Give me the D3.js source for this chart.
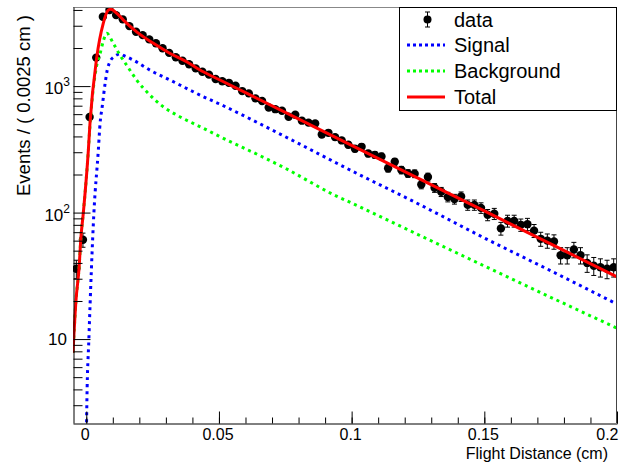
<!DOCTYPE html>
<html>
<head>
<meta charset="utf-8">
<script src="https://cdn.jsdelivr.net/npm/d3@7"></script>
<style>
body { margin: 0; background: #fff; }
text { font-family: "Liberation Sans", Arial, Helvetica, sans-serif; fill: #000; }
</style>
</head>
<body>
<svg id="chart" width="629" height="464"></svg>
<script>
// binning of the data histogram
var xMin = -0.005, xMax = 0.2, binWidth = 0.0025;
var yMin = 2.17, yMax = 4220;

// events per bin
var counts = [36, 61, 570, 1680, 3530, 4000, 3640, 3370, 2980, 2690,
	2530, 2340, 2180, 1990, 1830, 1690, 1585, 1490, 1380, 1300,
	1232, 1139, 1093, 1061, 1006, 913, 876, 800, 763, 677,
	657, 638, 572, 594, 533, 514, 506, 414, 427, 395,
	372, 344, 320, 331, 293, 286, 278, 224, 252, 217,
	204, 203, 167, 191, 157, 146, 133, 128, 134, 115,
	115, 109, 96, 98, 75, 86, 86, 80, 81, 72,
	62, 60, 59, 46, 46, 51, 46, 40, 38, 37,
	36, 37];

// fitted curves, sampled along x
var signalX = [0.0, 0.00024, 0.00098, 0.00288, 0.00453, 0.0052, 0.006, 0.0071, 0.0079, 0.0089,
	0.0108, 0.0127, 0.0146, 0.0177, 0.024, 0.0316, 0.0391, 0.0441, 0.05, 0.075, 0.1, 0.125, 0.15, 0.175, 0.2];
var signalY = [1.5, 3.3, 10, 100, 308, 507, 686, 1050, 1337, 1556,
	1726, 1792, 1726, 1607, 1337, 1115, 929, 825, 725, 398, 214, 117.5, 63, 34.7, 18.9];

var backgroundX = [-0.005, -0.00387, -0.00274, -0.002, -0.0011, 0.00077, 0.0014, 0.0039, 0.0052, 0.0065,
	0.0077, 0.0102, 0.0127, 0.0152, 0.019, 0.024, 0.029, 0.0341, 0.0403, 0.0441,
	0.05, 0.0676, 0.075, 0.0937, 0.1, 0.125, 0.15, 0.175, 0.2];
var backgroundY = [7.8, 20.3, 36, 64, 100, 305, 487, 1450, 1800, 2300,
	2612, 2177, 1758, 1466, 1115, 849, 686, 590, 507, 464,
	402, 268, 224, 137, 119, 67, 37.8, 21.4, 12.2];

var totalX = [-0.005, -0.00387, -0.00274, -0.002, -0.0011, 0.00077, 0.0014, 0.0039, 0.0064, 0.0083,
	0.0092, 0.0115, 0.014, 0.019, 0.0253, 0.0316, 0.0378, 0.0441, 0.05, 0.075,
	0.1, 0.125, 0.15, 0.175, 0.2];
var totalY = [7.8, 20.3, 36, 64, 100, 308, 507, 1657, 3135, 3985,
	4050, 3760, 3327, 2685, 2177, 1811, 1556, 1298, 1127, 620,
	340, 187, 103, 56.5, 31];

var xTicks = [0, 0.05, 0.1, 0.15, 0.2];
var yMajor = [10, 100, 1000];
var yLabels = [["10", ""], ["10", "2"], ["10", "3"]];

var legendItems = [
	{name: 'data', type: 'data'},
	{name: 'Signal', type: 'line', color: '#0000ff', dash: '3,3'},
	{name: 'Background', type: 'line', color: '#00ff00', dash: '3,3'},
	{name: 'Total', type: 'line', color: '#ff0000', dash: null}
];

var margin = {left: 73, right: 617, top: 7, bottom: 423};
var svg = d3.select('#chart');
svg.append('rect').attr('width', 629).attr('height', 464).attr('fill', '#fff');

var x = d3.scaleLinear().domain([xMin, xMax]).range([margin.left, margin.right]);
var y = d3.scaleLog().domain([yMin, yMax]).range([margin.bottom, margin.top]);

svg.append('clipPath').attr('id', 'plotclip')
	.append('rect')
	.attr('x', margin.left).attr('y', margin.top)
	.attr('width', margin.right - margin.left).attr('height', margin.bottom - margin.top);

var plot = svg.append('g').attr('clip-path', 'url(#plotclip)');

// data points with poisson errors
var pts = counts.map(function(c, i) {
	return {x: xMin + (i + 0.5) * binWidth, n: c};
});
var pg = plot.append('g');
pts.forEach(function(d) {
	var cx = x(d.x), lo = y(d.n - Math.sqrt(d.n)), hi = y(d.n + Math.sqrt(d.n));
	pg.append('line').attr('x1', cx).attr('x2', cx).attr('y1', lo).attr('y2', hi)
		.attr('stroke', '#000').attr('stroke-width', 1);
	pg.append('line').attr('x1', cx - 2.5).attr('x2', cx + 2.5).attr('y1', lo).attr('y2', lo)
		.attr('stroke', '#000').attr('stroke-width', 1);
	pg.append('line').attr('x1', cx - 2.5).attr('x2', cx + 2.5).attr('y1', hi).attr('y2', hi)
		.attr('stroke', '#000').attr('stroke-width', 1);
	pg.append('line').attr('x1', x(d.x - binWidth / 2)).attr('x2', x(d.x + binWidth / 2))
		.attr('y1', y(d.n)).attr('y2', y(d.n))
		.attr('stroke', '#000').attr('stroke-width', 1);
});
pg.selectAll('circle').data(pts).enter().append('circle')
	.attr('cx', function(d) { return x(d.x); })
	.attr('cy', function(d) { return y(d.n); })
	.attr('r', 4.2)
	.attr('fill', '#000');

var line = d3.line()
	.x(function(d) { return x(d[0]); })
	.y(function(d) { return y(d[1]); })
	.curve(d3.curveMonotoneX);

function drawCurve(xs, ys, color, dash) {
	var p = plot.append('path')
		.datum(d3.zip(xs, ys))
		.attr('d', line)
		.attr('fill', 'none')
		.attr('stroke', color)
		.attr('stroke-width', 3);
	if (dash) p.attr('stroke-dasharray', dash);
}
drawCurve(signalX, signalY, '#0000ff', '3,4');
drawCurve(backgroundX, backgroundY, '#00ff00', '3,4');
drawCurve(totalX, totalY, '#ff0000', null);

// frame
svg.append('line').attr('x1', margin.left).attr('x2', margin.right).attr('y1', margin.top + 0.5).attr('y2', margin.top + 0.5)
	.attr('stroke', '#888');
svg.append('line').attr('x1', margin.right - 0.5).attr('x2', margin.right - 0.5).attr('y1', margin.top).attr('y2', margin.bottom)
	.attr('stroke', '#444');

// x axis, ticks inside
var xMinor = d3.range(0, 0.2001, 0.01);
svg.append('g').attr('transform', 'translate(0,' + (margin.bottom + 0.5) + ')')
	.call(d3.axisBottom(x).tickValues(xMinor).tickSize(-6).tickFormat(''))
	.call(function(g) { g.select('.domain').remove(); });
var xAx = svg.append('g').attr('transform', 'translate(0,' + (margin.bottom + 0.5) + ')')
	.call(d3.axisBottom(x).tickValues(xTicks).tickSize(-12).tickPadding(5).tickSizeOuter(0).tickFormat(d3.format('~g')));
xAx.select('.domain').attr('stroke', '#000');
xAx.selectAll('text').attr('font-size', 16).attr('font-family', '"Liberation Sans", Arial, sans-serif')
	.attr('dx', -1.5);
xAx.selectAll('.tick').filter(function(d) { return d === xMax; }).select('text')
	.attr('text-anchor', 'end').attr('dx', 1);
svg.selectAll('.tick line').attr('stroke', '#000');

// y axis, log, ticks inside
var yMinor = y.ticks().filter(function(v) { return yMajor.indexOf(v) < 0; });
svg.append('g').attr('transform', 'translate(' + (margin.left + 0.5) + ',0)')
	.call(d3.axisLeft(y).tickValues(yMinor).tickSize(-9).tickFormat(''))
	.call(function(g) { g.select('.domain').remove(); g.selectAll('line').attr('stroke', '#000'); });
var yAx = svg.append('g').attr('transform', 'translate(' + (margin.left + 0.5) + ',0)')
	.call(d3.axisLeft(y).tickValues(yMajor).tickSize(-17).tickSizeOuter(0).tickFormat(''));
yAx.select('.domain').attr('stroke', '#000');
yAx.selectAll('line').attr('stroke', '#000');

yMajor.forEach(function(v, i) {
	var t = svg.append('text')
		.attr('x', yLabels[i][1] ? 70 : 67)
		.attr('y', y(v) + (yLabels[i][1] ? 8 : 6))
		.attr('text-anchor', 'end')
		.attr('font-size', 17)
		.text(yLabels[i][0]);
	if (yLabels[i][1]) {
		t.append('tspan').attr('dy', -8).attr('font-size', 12).text(yLabels[i][1]);
	}
});

// axis titles
svg.append('text')
	.attr('x', 608).attr('y', 458.5)
	.attr('text-anchor', 'end')
	.attr('font-size', 16)
	.text('Flight Distance (cm)');
svg.append('text')
	.attr('transform', 'translate(29.5,15) rotate(-90)')
	.attr('text-anchor', 'end')
	.attr('font-size', 18.5)
	.text('Events / ( 0.0025 cm )');

// legend
var lg = svg.append('g');
lg.append('rect').attr('x', 399.5).attr('y', 7.5).attr('width', 217).attr('height', 103)
	.attr('fill', '#fff').attr('stroke', '#000').attr('stroke-width', 1);
var rowY = [19.5, 45, 71, 97];
legendItems.forEach(function(it, i) {
	var yy = rowY[i];
	if (it.type === 'data') {
		lg.append('line').attr('x1', 427.5).attr('x2', 427.5).attr('y1', yy - 7.5).attr('y2', yy + 7.5).attr('stroke', '#000');
		lg.append('line').attr('x1', 425).attr('x2', 430).attr('y1', yy - 7.5).attr('y2', yy - 7.5).attr('stroke', '#000');
		lg.append('line').attr('x1', 425).attr('x2', 430).attr('y1', yy + 7.5).attr('y2', yy + 7.5).attr('stroke', '#000');
		lg.append('circle').attr('cx', 427.5).attr('cy', yy).attr('r', 4).attr('fill', '#000');
	} else {
		var l = lg.append('line').attr('x1', 407).attr('x2', 445).attr('y1', yy).attr('y2', yy)
			.attr('stroke', it.color).attr('stroke-width', 3);
		if (it.dash) l.attr('stroke-dasharray', it.dash);
	}
	lg.append('text').attr('x', 454).attr('y', yy + 7).attr('font-size', 20).text(it.name);
});
</script>
</body>
</html>
